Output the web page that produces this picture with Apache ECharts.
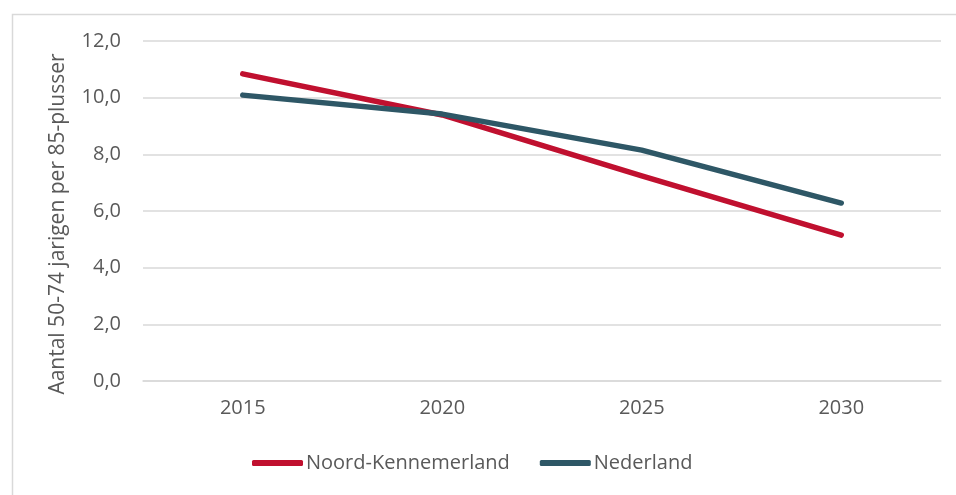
<!DOCTYPE html>
<html>
<head>
<meta charset="utf-8">
<script src="https://cdn.jsdelivr.net/npm/echarts@6/dist/echarts.min.js"></script>
<style>
html,body{margin:0;padding:0;background:#fff;}
#chart{width:956px;height:495px;}
</style>
</head>
<body>
<div id="chart"></div>
<script>
const categories = ['2015', '2020', '2025', '2030'];
const noordKennemerland = [10.84, 9.39, 7.24, 5.15];
const nederland = [10.09, 9.42, 8.15, 6.28];
const yTicks = [0, 2, 4, 6, 8, 10, 12];

const chart = echarts.init(document.getElementById('chart'));
const txt = '#595959';
const font = 'Open Sans';
chart.setOption({
  animation: false,
  graphic: [{
    type: 'rect', left: 10, top: 12, z: -1,
    shape: { width: 970, height: 500 },
    style: { fill: 'none', stroke: '#d9d9d9', lineWidth: 1.5 }
  }],
  grid: { left: 143, right: 15, top: 41, bottom: 114 },
  legend: {
    bottom: 22, left: 252, padding: 0,
    itemWidth: 51, itemHeight: 6, itemGap: 30,
    icon: 'roundRect',
    textStyle: { color: txt, fontFamily: font, fontSize: 20, padding: [0, 0, 0, -2] },
    data: ['Noord-Kennemerland', 'Nederland']
  },
  xAxis: {
    type: 'category', data: categories, boundaryGap: true,
    axisLine: { show: true, lineStyle: { color: '#d9d9d9', width: 1.5 } },
    axisTick: { show: false },
    axisLabel: { color: txt, fontFamily: font, fontSize: 20, margin: 17 }
  },
  yAxis: {
    type: 'value', min: yTicks[0], max: yTicks[yTicks.length - 1], interval: 2,
    name: 'Aantal 50-74 jarigen per 85-plusser', nameLocation: 'middle', nameGap: 74,
    nameTextStyle: { color: txt, fontFamily: font, fontSize: 21, padding: [0, 26, 0, 0] },
    axisLine: { show: false }, axisTick: { show: false },
    splitLine: { lineStyle: { color: '#d9d9d9', width: 1.5 } },
    axisLabel: {
      color: txt, fontFamily: font, fontSize: 20, margin: 22,
      formatter: v => v.toFixed(1).replace('.', ',')
    }
  },
  series: [
    {
      name: 'Noord-Kennemerland', type: 'line', data: noordKennemerland,
      symbol: 'none', color: '#C0102F',
      lineStyle: { width: 5.5, cap: 'round', join: 'round' }
    },
    {
      name: 'Nederland', type: 'line', data: nederland,
      symbol: 'none', color: '#2E5766',
      lineStyle: { width: 5.5, cap: 'round', join: 'round' }
    }
  ]
});
</script>
</body>
</html>
